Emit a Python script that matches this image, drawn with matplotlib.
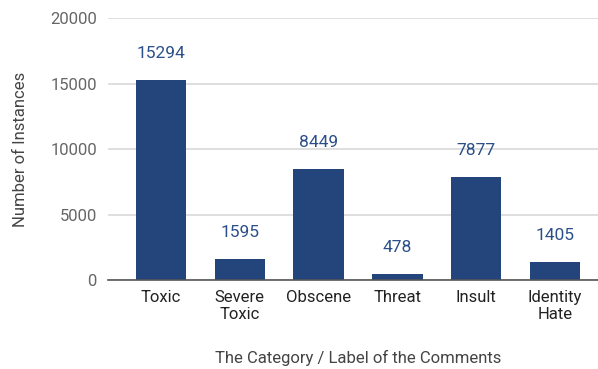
import matplotlib.pyplot as plt

plt.rcParams['font.family'] = ['Roboto', 'DejaVu Sans']

categories = ['Toxic', 'Severe\nToxic', 'Obscene', 'Threat', 'Insult', 'Identity\nHate']
counts = [15294, 1595, 8449, 478, 7877, 1405]
yticks = [0, 5000, 10000, 15000, 20000]

bar_color = '#23457b'
label_color = '#2b4f8a'

fig = plt.figure(figsize=(5.98, 3.69), dpi=100)
ax = fig.add_axes([0.1806, 0.241, 0.8194, 0.71])

x = range(len(categories))
bars = ax.bar(x, counts, width=0.64, color=bar_color, zorder=3)
for xi, v in zip(x, counts):
	ax.text(xi, v + 1450, str(v), ha='center', va='bottom', color=label_color, fontsize=12.5)

ax.set_xlim(-0.673, 5.546)
ax.set_ylim(0, 20000)
ax.set_yticks(yticks)
ax.set_yticklabels([str(t) for t in yticks], color='#666666', fontsize=12)
ax.set_xticks(list(x))
ax.set_xticklabels(categories, fontsize=12, color='#222222', linespacing=1.12)
ax.tick_params(axis='both', length=0, pad=8)
ax.tick_params(axis='x', pad=7.5)

ax.grid(axis='y', color='#d9d9d9', lw=1.2, zorder=0)
for s in ['top', 'right', 'left']:
	ax.spines[s].set_visible(False)
ax.spines['bottom'].set_color('#555555')
ax.spines['bottom'].set_linewidth(1.2)
ax.spines['bottom'].set_zorder(4)

ax.set_ylabel('Number of Instances', color='#444444', fontsize=12, labelpad=16)
ax.set_xlabel('The Category / Label of the Comments', color='#444444', fontsize=12)
ax.xaxis.set_label_coords(0.51, -0.265)

fig.savefig('out.png', dpi=100)
